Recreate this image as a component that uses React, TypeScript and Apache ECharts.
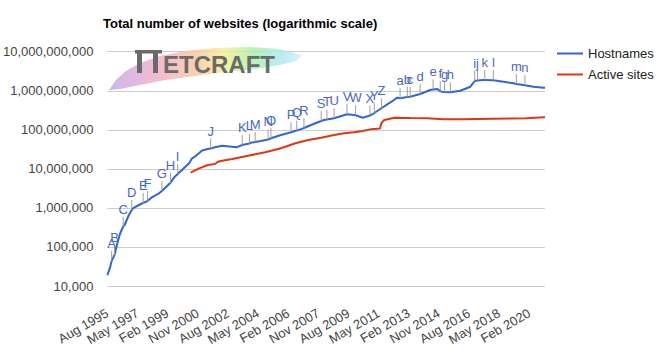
import React, { useEffect, useRef } from "react";
import * as echarts from "echarts";

const MONTHS = ["Jan", "Feb", "Mar", "Apr", "May", "Jun", "Jul", "Aug", "Sep", "Oct", "Nov", "Dec"];

// monthly categories, Aug 1995 .. Jan 2021
const categories: string[] = [];
for (let i = 0; i < 306; i++) {
  const m = (7 + i) % 12;
  const y = 1995 + Math.floor((7 + i) / 12);
  categories.push(`${MONTHS[m]} ${y}`);
}

const xTickLabels = [
  "Aug 1995", "May 1997", "Feb 1999", "Nov 2000", "Aug 2002", "May 2004", "Feb 2006",
  "Nov 2007", "Aug 2009", "May 2011", "Feb 2013", "Nov 2014", "Aug 2016", "May 2018", "Feb 2020",
];

const hostnames: [string, number][] = [
  ["Aug 1995", 19000], ["Oct 1995", 31000], ["Nov 1995", 44000], ["Jan 1996", 62000],
  ["Mar 1996", 126000], ["May 1996", 228000], ["Jul 1996", 330000], ["Aug 1996", 365000],
  ["Nov 1996", 658000], ["Jan 1997", 880000], ["Feb 1997", 990000], ["Jun 1997", 1186000],
  ["Sep 1997", 1340000], ["Nov 1997", 1440000], ["Dec 1997", 1500000], ["Mar 1998", 1870000],
  ["Aug 1998", 2370000], ["Oct 1998", 2710000], ["Dec 1998", 3180000], ["Apr 1999", 4420000],
  ["Jul 1999", 6300000], ["Sep 1999", 7400000], ["Dec 1999", 9350000], ["May 2000", 13900000],
  ["Jul 2000", 18600000], ["Sep 2000", 20500000], ["Feb 2001", 29500000], ["Jun 2001", 32200000],
  ["Aug 2001", 33000000], ["Nov 2001", 35600000], ["Apr 2002", 39200000], ["Nov 2002", 36900000],
  ["Feb 2003", 35600000], ["Jun 2003", 40800000], ["Nov 2003", 44700000], ["Dec 2003", 46800000],
  ["Mar 2004", 48700000], ["Jul 2004", 51700000], ["Dec 2004", 56500000], ["Feb 2005", 60600000],
  ["Sep 2005", 73600000], ["Apr 2006", 86300000], ["Aug 2006", 96000000], ["Nov 2006", 104000000],
  ["Jan 2007", 111000000], ["Sep 2007", 147000000], ["Jan 2008", 168000000], ["Mar 2008", 178000000],
  ["May 2008", 184000000], ["Oct 2008", 197000000], ["Jul 2009", 249000000], ["Dec 2009", 239000000],
  ["Jan 2010", 235000000], ["Jun 2010", 204000000], ["Nov 2010", 232000000], ["Feb 2011", 269000000],
  ["Jul 2011", 356000000], ["Feb 2012", 524000000], ["Jun 2012", 664000000], ["Aug 2012", 641000000],
  ["Jan 2013", 692000000], ["Mar 2013", 704000000], ["Oct 2013", 826000000], ["May 2014", 1045000000],
  ["Jul 2014", 1077000000], ["Oct 2014", 1109000000], ["Dec 2014", 980000000], ["Jan 2015", 946000000],
  ["Mar 2015", 929000000], ["Jul 2015", 912000000], ["Feb 2016", 1003000000], ["Sep 2016", 1270000000],
  ["Dec 2016", 1778000000], ["Feb 2017", 1828000000], ["Jun 2017", 1885000000], ["Jul 2017", 1885000000],
  ["Jan 2018", 1860000000], ["Aug 2018", 1706000000], ["Mar 2019", 1552000000], ["May 2019", 1490000000],
  ["Oct 2019", 1403000000], ["Nov 2019", 1380000000], ["May 2020", 1270000000], ["Dec 2020", 1197000000],
  ["Jan 2021", 1190000000],
];

const activeSites: [string, number][] = [
  ["Jun 2000", 7960000], ["Dec 2000", 10300000], ["Jun 2001", 12560000], ["Nov 2001", 13300000],
  ["Jan 2002", 15200000], ["Apr 2002", 16200000], ["Nov 2002", 17900000], ["Oct 2003", 21700000],
  ["Oct 2004", 26500000], ["Sep 2005", 33600000], ["Jul 2006", 45100000], ["Apr 2007", 54800000],
  ["Jan 2008", 62800000], ["Oct 2008", 73600000], ["May 2009", 81300000], ["Dec 2009", 86300000],
  ["Jun 2010", 93100000], ["Dec 2010", 104000000], ["Jun 2011", 108000000], ["Jul 2011", 150000000],
  ["Sep 2011", 178000000], ["Apr 2012", 204000000], ["Mar 2013", 200000000], ["Mar 2014", 197000000],
  ["Feb 2015", 186000000], ["Feb 2016", 186000000], ["Feb 2017", 189000000], ["Jan 2018", 192000000],
  ["Jan 2019", 196000000], ["Dec 2019", 197000000], ["Dec 2020", 209000000], ["Jan 2021", 210000000],
];

const annotationLetters = [
  "A", "B", "C", "D", "E", "F", "G", "H", "I", "J", "K", "L", "M", "N", "O", "P", "Q", "R", "S", "T",
  "U", "V", "W", "X", "Y", "Z", "a", "b", "c", "d", "e", "f", "g", "h", "i", "j", "k", "l", "m", "n",
];
const annotationMonths = [
  "Nov 1995", "Jan 1996", "Jul 1996", "Jan 1997", "Sep 1997", "Dec 1997", "Oct 1998", "Apr 1999",
  "Sep 1999", "Aug 2001", "Jun 2003", "Nov 2003", "Mar 2004", "Dec 2004", "Feb 2005", "Apr 2006",
  "Aug 2006", "Jan 2007", "Jan 2008", "May 2008", "Oct 2008", "Jul 2009", "Jan 2010", "Nov 2010",
  "Feb 2011", "Jul 2011", "Aug 2012", "Jan 2013", "Mar 2013", "Oct 2013", "Jul 2014", "Dec 2014",
  "Mar 2015", "Jul 2015", "Dec 2016", "Feb 2017", "Jul 2017", "Jan 2018", "May 2019", "Nov 2019",
];

const FONT = "'Liberation Sans', Arial, sans-serif";
const BLUE = "#3366cc";
const RED = "#dc3912";

export default function App() {
  const ref = useRef<HTMLDivElement>(null);
  useEffect(() => {
    if (!ref.current) return;
    const chart = echarts.init(ref.current, undefined, { renderer: "svg" });

    const markData = annotationLetters.map((letter, k) => {
      const month = annotationMonths[k];
      const pt = hostnames.find((p) => p[0] === month);
      return {
        coord: [month, pt ? pt[1] : 0],
        symbol: "rect",
        symbolSize: [1, 10],
        symbolOffset: [0, -5],
        itemStyle: { color: "#9e9e9e" },
        label: {
          show: true,
          formatter: letter,
          position: "top",
          distance: 1,
          color: "#4a68c4",
          fontSize: 13,
          fontFamily: FONT,
        },
      };
    });

    const swooshPts = [
      [109, 90], [116, 80], [126, 71], [140, 63], [160, 56], [185, 51], [215, 48], [250, 47],
      [280, 49], [302, 55], [296, 61], [280, 65], [255, 69], [225, 72], [195, 76], [165, 80],
      [140, 85], [120, 89],
    ];

    chart.setOption({
      animation: false,
      backgroundColor: "#ffffff",
      textStyle: { fontFamily: FONT },
      title: {
        text: "Total number of websites (logarithmic scale)",
        left: 103,
        top: 17,
        padding: 0,
        textStyle: { fontSize: 13, fontWeight: "bold", color: "#000", fontFamily: FONT },
      },
      legend: {
        orient: "vertical",
        left: 557,
        top: 47,
        padding: 0,
        icon: "rect",
        itemWidth: 26,
        itemHeight: 2,
        itemGap: 8,
        textStyle: { fontSize: 13, color: "#222", fontFamily: FONT },
        data: ["Hostnames", "Active sites"],
      },
      grid: { left: 105, right: 113, top: 51.7, bottom: 69, containLabel: false },
      xAxis: {
        type: "category",
        data: categories,
        boundaryGap: false,
        axisLine: { show: false },
        axisTick: { show: false },
        splitLine: { show: false },
        axisLabel: {
          interval: (_i: number, v: string) => xTickLabels.includes(v),
          rotate: 30,
          margin: 26,
          fontSize: 13,
          color: "#444",
          fontFamily: FONT,
        },
      },
      yAxis: {
        type: "log",
        logBase: 10,
        min: 10000,
        max: 10000000000,
        axisLine: { show: false },
        axisTick: { show: false },
        splitLine: { lineStyle: { color: "#cccccc", width: 1 } },
        axisLabel: {
          margin: 14,
          fontSize: 13,
          color: "#444",
          fontFamily: FONT,
          formatter: (v: number) => Math.round(v).toLocaleString("en-US"),
        },
      },
      series: [
        {
          name: "Hostnames",
          type: "line",
          data: hostnames,
          symbol: "none",
          lineStyle: { color: BLUE, width: 2 },
          itemStyle: { color: BLUE },
          z: 3,
          markPoint: { silent: true, data: markData },
        },
        {
          name: "Active sites",
          type: "line",
          data: activeSites,
          symbol: "none",
          lineStyle: { color: RED, width: 2 },
          itemStyle: { color: RED },
          z: 2,
        },
      ],
      graphic: [
        {
          type: "polygon",
          z: 10,
          shape: { points: swooshPts },
          style: {
            fill: new echarts.graphic.LinearGradient(0, 0, 1, 0, [
              { offset: 0, color: "rgba(185,160,230,0.75)" },
              { offset: 0.25, color: "rgba(240,170,200,0.8)" },
              { offset: 0.45, color: "rgba(248,200,160,0.85)" },
              { offset: 0.6, color: "rgba(245,238,150,0.85)" },
              { offset: 0.75, color: "rgba(170,240,170,0.85)" },
              { offset: 0.9, color: "rgba(170,232,240,0.8)" },
              { offset: 1, color: "rgba(200,230,250,0.6)" },
            ]),
          },
        },
        { type: "rect", z: 11, shape: { x: 135, y: 50, width: 27, height: 3.5 }, style: { fill: "#6a6a6a" } },
        { type: "rect", z: 11, shape: { x: 137, y: 50, width: 5, height: 23 }, style: { fill: "#6a6a6a" } },
        { type: "rect", z: 11, shape: { x: 153, y: 50, width: 5, height: 23 }, style: { fill: "#6a6a6a" } },
        {
          type: "text",
          z: 11,
          x: 163,
          y: 64.5,
          style: {
            text: "ETCRAFT",
            fill: "#6a6a6a",
            font: `bold 24px ${FONT}`,
            verticalAlign: "middle",
          },
        },
      ],
    });
    return () => chart.dispose();
  }, []);
  return (
    <div
      ref={ref}
      style={{ position: "absolute", left: 0, top: 0, width: 658, height: 355 }}
    />
  );
}
